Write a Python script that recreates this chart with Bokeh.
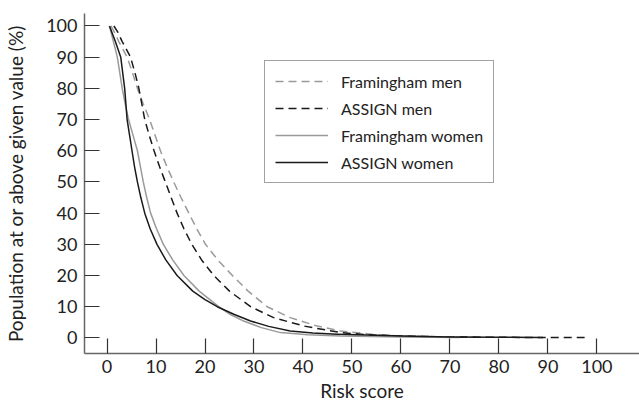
from bokeh.plotting import figure
from bokeh.models import Range1d, FixedTicker, Legend, LegendItem
from bokeh.embed import file_html
from bokeh.resources import INLINE

# Risk score (x) and population at or above given value (%) (y)
fram_men_x = [0.8, 1.5, 2.4, 4.1, 5.2, 6.2, 7.4, 8.7, 9.8, 10.9, 12.2, 13.6, 15.1, 16.7, 18.3, 20.1, 22.6,
              25.6, 28.8, 32.7, 37.4, 42.9, 47.7, 55, 60, 70, 75]
fram_men_y = [100, 98, 95, 90, 85, 80, 75, 70, 65, 60, 55, 50, 45, 40, 35, 30, 25,
              20, 15, 10, 6.5, 3.8, 2.2, 1.0, 0.6, 0.3, 0.2]

assign_men_x = [1.4, 2.2, 3.1, 4.8, 5.7, 6.5, 7.1, 7.7, 8.6, 9.6, 10.7, 11.9, 13.1, 14.3, 15.7, 17.3, 19.3,
                21.8, 25, 29.3, 34, 40.2, 47.7, 53, 60, 70, 80, 90, 97.5]
assign_men_y = [100, 98, 95, 90, 85, 80, 75, 70, 65, 60, 55, 50, 45, 40, 35, 30, 25,
                20, 15, 10, 6.5, 3.8, 1.7, 1.0, 0.6, 0.3, 0.2, 0.1, 0.1]

fram_women_x = [0.5, 1.3, 2.1, 3.1, 3.7, 4.4, 5.3, 6.2, 6.8, 7.4, 8.1, 8.9, 10.1, 11.5, 13.4, 15.7, 18.8,
                22.8, 25.2, 27.9, 31.5, 35.4, 41, 47.6, 60, 72]
fram_women_y = [100, 95, 90, 80, 75, 70, 65, 60, 55, 50, 45, 40, 35, 30, 25, 20, 15,
                10, 7.5, 5.4, 3.3, 1.7, 1.0, 0.6, 0.3, 0.1]

assign_women_x = [0.5, 1.7, 2.8, 3.6, 4.1, 4.6, 5.1, 5.6, 6.2, 6.9, 7.7, 8.8, 10.2, 12, 14.3, 17.5, 20,
                  22.5, 26, 29.3, 33, 37.4, 42, 47, 53, 60, 70, 80, 89]
assign_women_y = [100, 95, 90, 80, 70, 65, 60, 55, 50, 45, 40, 35, 30, 25, 20, 15, 12.3,
                  10, 7.5, 5.4, 3.7, 2.2, 1.6, 1.2, 0.9, 0.6, 0.3, 0.2, 0.1]

x_ticks = [0, 10, 20, 30, 40, 50, 60, 70, 80, 90, 100]
y_ticks = [0, 10, 20, 30, 40, 50, 60, 70, 80, 90, 100]

FONT = "Lato"
TXT = "#222222"

p = figure(frame_width=555, frame_height=340, output_backend="svg", toolbar_location=None,
           x_range=Range1d(-4.6, 108.7), y_range=Range1d(-5.0, 104.0),
           min_border_left=84, min_border_right=0, min_border_top=13, min_border_bottom=51)
p.outline_line_color = None
p.grid.grid_line_color = None
p.background_fill_color = "white"
p.border_fill_color = "white"

for ax, ticks in ((p.xaxis[0], x_ticks), (p.yaxis[0], y_ticks)):
    ax.ticker = FixedTicker(ticks=ticks)
    ax.minor_tick_line_color = None
    ax.major_tick_in = 15
    ax.major_tick_out = 0
    ax.major_tick_line_color = "#333333"
    ax.major_tick_line_width = 1.2
    ax.axis_line_color = "#666666"
    ax.axis_line_width = 1.5
    ax.major_label_text_font = FONT
    ax.major_label_text_font_size = "18px"
    ax.major_label_text_color = TXT
    ax.axis_label_text_font = FONT
    ax.axis_label_text_font_size = "19px"
    ax.axis_label_text_font_style = "normal"
    ax.axis_label_text_color = TXT

p.xaxis.axis_label = "Risk score"
p.yaxis.axis_label = "Population at or above given value (%)"
p.xaxis.major_label_standoff = 6
p.yaxis.major_label_standoff = 7
p.xaxis.axis_label_standoff = 3
p.yaxis.axis_label_standoff = 16

common = dict(line_width=1.5, line_join="round")
r1 = p.line(fram_men_x, fram_men_y, line_color="#9a9a9a", line_dash="8 5", **common)
r2 = p.line(assign_men_x, assign_men_y, line_color="#1a1a1a", line_dash="8 5", **common)
r3 = p.line(fram_women_x, fram_women_y, line_color="#9a9a9a", **common)
r4 = p.line(assign_women_x, assign_women_y, line_color="#1a1a1a", **common)

legend = Legend(items=[
    LegendItem(label="Framingham men", renderers=[r1]),
    LegendItem(label="ASSIGN men", renderers=[r2]),
    LegendItem(label="Framingham women", renderers=[r3]),
    LegendItem(label="ASSIGN women", renderers=[r4]),
], location=(180, 170))
legend.label_text_font = FONT
legend.label_text_font_size = "16px"
legend.label_text_color = TXT
legend.glyph_width = 53
legend.glyph_height = 20
legend.label_height = 20
legend.spacing = 7
legend.padding = 10
legend.margin = 0
legend.label_standoff = 13
legend.border_line_color = "#444444"
legend.border_line_width = 1
legend.background_fill_alpha = 1.0
p.add_layout(legend, "center")

open("out.html", "w").write(file_html(p, INLINE))
